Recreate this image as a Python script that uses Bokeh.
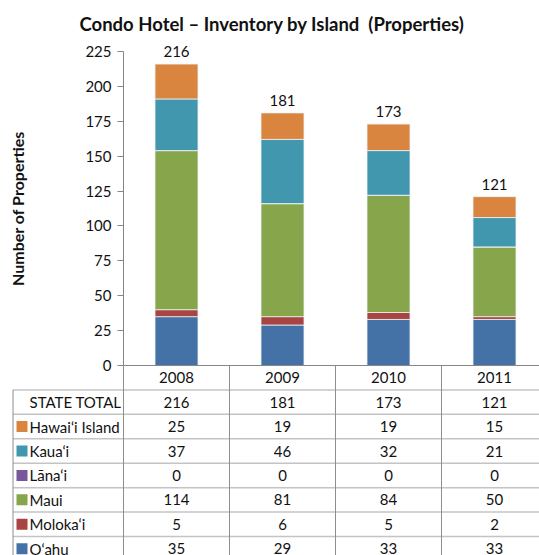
from bokeh.plotting import figure
from bokeh.models import ColumnDataSource, FixedTicker, Range1d
from bokeh.core.properties import value
from bokeh.embed import file_html
from bokeh.resources import INLINE

# ---------------- data ----------------
years = ["2008", "2009", "2010", "2011"]
islands = ["O‘ahu", "Moloka‘i", "Maui", "Lāna‘i", "Kaua‘i", "Hawai‘i Island"]  # stack order, bottom -> top
oahu = [35, 29, 33, 33]
molokai = [5, 6, 5, 2]
maui = [114, 81, 84, 50]
lanai = [0, 0, 0, 0]
kauai = [37, 46, 32, 21]
hawaii = [25, 19, 19, 15]
state_total = [216, 181, 173, 121]
colors = ["#4472A6", "#A84442", "#87A54B", "#77599B", "#4097AE", "#DA853F"]
y_ticks = [0, 25, 50, 75, 100, 125, 150, 175, 200, 225]
title_text = "Condo Hotel – Inventory by Island\u00a0 (Properties)"
y_label = "Number of Properties"
total_label = "STATE TOTAL"

FONT = "Lato"
series = [oahu, molokai, maui, lanai, kauai, hawaii]

# ---------------- layout constants ----------------
COL_PX = 106.0            # px per year column
PPU = 314.0 / 225.0       # px per property
W, H = 539, 555
BORDER_L, BORDER_T = 11, 41
AXIS_X = 123              # canvas x of the value axis
ZERO_Y = 365              # canvas y of value 0
x_start = -(AXIS_X - BORDER_L) / COL_PX
x_end = (W - BORDER_L) / COL_PX + x_start
y_end = (ZERO_Y - BORDER_T) / PPU
y_start = y_end - (H - BORDER_T) / PPU
ROW = 24.43 / PPU         # table row height in value units

xs = [i + 0.5 for i in range(len(years))]

data = dict(x=xs, total=state_total, total_str=[str(v) for v in state_total])
for name, vals in zip(islands, series):
    data[name] = vals
src = ColumnDataSource(data)

p = figure(width=W, height=H, output_backend="svg", toolbar_location=None,
           x_range=Range1d(x_start, x_end), y_range=Range1d(y_start, y_end),
           x_axis_location=None, min_border_left=BORDER_L, min_border_right=0,
           min_border_bottom=0, min_border_top=BORDER_T)
p.outline_line_color = None
p.grid.visible = False

# ---------------- bars ----------------
p.vbar_stack(islands, x="x", width=43 / COL_PX, color=colors, source=src,
             line_color="#eef2f6", line_width=0.8)
p.text(x="x", y="total", text="total_str", source=src, text_align="center",
       text_baseline="bottom", y_offset=-7, text_font=value(FONT),
       text_font_size="15px", text_color="#111111")

# ---------------- value axis ----------------
ax = p.yaxis[0]
ax.fixed_location = 0
ax.ticker = FixedTicker(ticks=y_ticks)
ax.bounds = (0, 225)
ax.axis_line_color = "#868686"
ax.major_tick_line_color = "#868686"
ax.major_tick_out = 6
ax.major_tick_in = 0
ax.minor_tick_line_color = None
ax.major_label_text_font = FONT
ax.major_label_text_font_size = "15px"
ax.major_label_text_color = "#111111"
ax.major_label_standoff = 6
ax.axis_label = y_label
ax.axis_label_text_font = FONT
ax.axis_label_text_font_style = "bold"
ax.axis_label_text_font_size = "16px"
ax.axis_label_text_color = "#111111"
ax.axis_label_standoff = 55

p.title.text = title_text
p.title.text_font = FONT
p.title.text_font_size = "18.5px"
p.title.text_font_style = "bold"
p.title.text_color = "#111111"
p.title.align = "left"
p.title.offset = 79 - BORDER_L
p.title.standoff = 13

# ---------------- table ----------------
n_rows = 1 + 1 + len(islands)
left_border = (12.5 - AXIS_X) / COL_PX
row_y = lambda r: -r * ROW

hy = [row_y(r) for r in range(1, n_rows + 1)]
t_end = x_end + 1
p.segment(x0=[left_border] * len(hy), x1=[t_end] * len(hy), y0=hy, y1=hy,
          line_color="#c4c4c4", line_width=1.5)
p.segment(x0=[0], x1=[t_end], y0=[0], y1=[0], line_color="#868686", line_width=1)
vx = list(range(len(years)))
p.segment(x0=vx, x1=vx, y0=[0] * len(vx), y1=[y_start - 5] * len(vx),
          line_color="#8e8e8e", line_width=1)
p.segment(x0=[left_border], x1=[left_border], y0=[row_y(1)], y1=[y_start - 5],
          line_color="#8e8e8e", line_width=1)

p.text(x=xs, y=[row_y(0.5)] * len(xs), text=years, text_align="center",
       text_baseline="middle", text_font=value(FONT), text_font_size="15px",
       text_color="#111111")

table_labels = [total_label] + islands[::-1]
table_values = [state_total] + series[::-1]
label_x = (29 - AXIS_X) / COL_PX
sq_x = (21.5 - AXIS_X) / COL_PX
for r, (lab, vals) in enumerate(zip(table_labels, table_values)):
    yy = row_y(r + 1.5)
    p.text(x=[label_x], y=[yy], text=[lab], text_align="left", text_baseline="middle",
           text_font=value(FONT), text_font_size="15px", text_color="#111111")
    p.text(x=xs, y=[yy] * len(xs), text=[str(v) for v in vals], text_align="center",
           text_baseline="middle", text_font=value(FONT), text_font_size="15px",
           text_color="#111111")

p.scatter(x=[sq_x] * len(islands), y=[row_y(r + 2.5) for r in range(len(islands))],
          marker="square", size=11, color=colors[::-1], line_color=None)

open("out.html", "w").write(file_html(p, INLINE))
